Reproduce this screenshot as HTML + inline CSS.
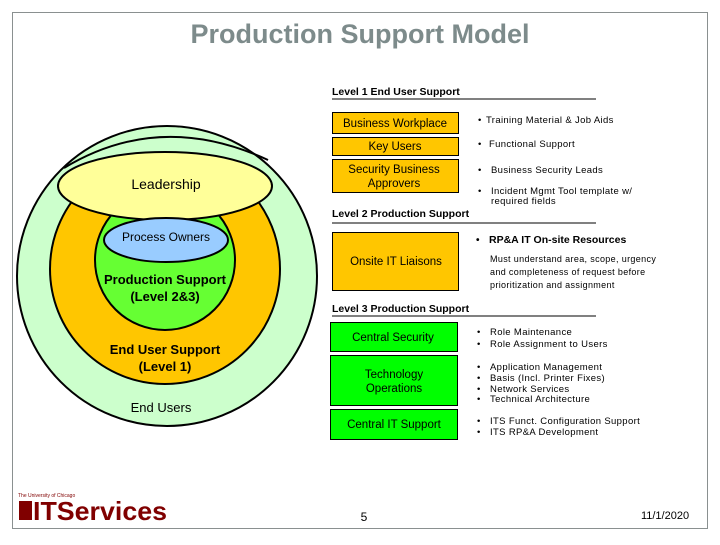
<!DOCTYPE html>
<html><head><meta charset="utf-8"><style>
body{margin:0;background:#fff;}
svg text{font-family:"Liberation Sans",Arial,sans-serif;}
.b{letter-spacing:0.35px;}
</style></head><body>
<svg width="720" height="540" viewBox="0 0 720 540" xmlns="http://www.w3.org/2000/svg">
<rect x="12.5" y="12.5" width="695" height="516" fill="#fff" stroke="#8a9090" stroke-width="1"/>
<text x="360" y="43" text-anchor="middle" font-size="27" font-weight="bold" fill="#7d8b8b">Production Support Model</text>

<circle cx="167" cy="276" r="150" fill="#ccffcc" stroke="#000" stroke-width="2"/>
<circle cx="165" cy="269" r="115" fill="#ffc600" stroke="#000" stroke-width="2"/>
<circle cx="165" cy="260" r="70" fill="#66ff33" stroke="#000" stroke-width="2"/>
<path d="M64,168 Q160,110 268,160" fill="none" stroke="#000" stroke-width="2"/>
<ellipse cx="165" cy="186" rx="107" ry="34" fill="#ffff99" stroke="#000" stroke-width="2"/>
<ellipse cx="166" cy="240" rx="62" ry="22" fill="#99ccff" stroke="#000" stroke-width="2"/>
<text x="166" y="189" text-anchor="middle" font-size="14" fill="#000">Leadership</text>
<text x="166" y="241" text-anchor="middle" font-size="12" fill="#000">Process Owners</text>
<text x="165" y="284" text-anchor="middle" font-size="13" font-weight="bold" fill="#000">Production Support</text>
<text x="165" y="301" text-anchor="middle" font-size="13" font-weight="bold" fill="#000">(Level 2&amp;3)</text>
<text x="165" y="354" text-anchor="middle" font-size="13" font-weight="bold" fill="#000">End User Support</text>
<text x="165" y="371" text-anchor="middle" font-size="13" font-weight="bold" fill="#000">(Level 1)</text>
<text x="161" y="412" text-anchor="middle" font-size="13" fill="#000">End Users</text>

<text x="332" y="95" font-size="10.5" font-weight="bold">Level 1 End User Support</text>
<line x1="332" y1="99" x2="596" y2="99" stroke="#000"/>
<rect x="332.5" y="112.5" width="126" height="21" fill="#ffc600" stroke="#000"/>
<text x="395" y="127" text-anchor="middle" font-size="11.5">Business Workplace</text>
<rect x="332.5" y="137.5" width="126" height="18" fill="#ffc600" stroke="#000"/>
<text x="395" y="150" text-anchor="middle" font-size="11.5">Key Users</text>
<rect x="332.5" y="159.5" width="126" height="33" fill="#ffc600" stroke="#000"/>
<text x="394" y="173" text-anchor="middle" font-size="11.5">Security Business</text>
<text x="394" y="187" text-anchor="middle" font-size="11.5">Approvers</text>
<g font-size="9.5" class="b">
<text x="478" y="123">•</text><text x="486" y="123">Training Material &amp; Job Aids</text>
<text x="478" y="147">•</text><text x="489" y="147">Functional Support</text>
<text x="478" y="173">•</text><text x="491" y="173">Business Security Leads</text>
<text x="478" y="194">•</text><text x="491" y="194">Incident Mgmt Tool template w/</text>
<text x="491" y="204">required fields</text>
</g>

<text x="332" y="217" font-size="10.5" font-weight="bold">Level 2 Production Support</text>
<line x1="332" y1="223" x2="596" y2="223" stroke="#000"/>
<rect x="332.5" y="232.5" width="126" height="58" fill="#ffc600" stroke="#000"/>
<text x="396" y="265" text-anchor="middle" font-size="11.5">Onsite IT Liaisons</text>
<text x="476" y="243" font-size="10" font-weight="bold">•</text>
<text x="489" y="243" font-size="10.5" font-weight="bold">RP&amp;A IT On-site Resources</text>
<g font-size="9" class="b">
<text x="490" y="262">Must understand area, scope, urgency</text>
<text x="490" y="275">and completeness of request before</text>
<text x="490" y="288">prioritization and assignment</text>
</g>

<text x="332" y="312" font-size="10.5" font-weight="bold">Level 3 Production Support</text>
<line x1="332" y1="316" x2="596" y2="316" stroke="#000"/>
<rect x="330.5" y="322.5" width="127" height="29" fill="#00ff00" stroke="#000"/>
<text x="393" y="341" text-anchor="middle" font-size="11.5">Central Security</text>
<rect x="330.5" y="355.5" width="127" height="50" fill="#00ff00" stroke="#000"/>
<text x="394" y="378" text-anchor="middle" font-size="11.5">Technology</text>
<text x="394" y="392" text-anchor="middle" font-size="11.5">Operations</text>
<rect x="330.5" y="409.5" width="127" height="30" fill="#00ff00" stroke="#000"/>
<text x="394" y="428" text-anchor="middle" font-size="11.5">Central IT Support</text>
<g font-size="9.5" class="b">
<text x="477" y="335">•</text><text x="490" y="335">Role Maintenance</text>
<text x="477" y="347">•</text><text x="490" y="347">Role Assignment to Users</text>
<text x="477" y="370">•</text><text x="490" y="370">Application Management</text>
<text x="477" y="381">•</text><text x="490" y="381">Basis (Incl. Printer Fixes)</text>
<text x="477" y="392">•</text><text x="490" y="392">Network Services</text>
<text x="477" y="402">•</text><text x="490" y="402">Technical Architecture</text>
<text x="477" y="424">•</text><text x="490" y="424">ITS Funct. Configuration Support</text>
<text x="477" y="435">•</text><text x="490" y="435">ITS RP&amp;A Development</text>
</g>

<text x="364" y="521" text-anchor="middle" font-size="12">5</text>
<text x="665" y="519" text-anchor="middle" font-size="11">11/1/2020</text>

<text x="18" y="497" font-size="5" fill="#800000">The University of Chicago</text>
<rect x="19" y="501" width="13" height="19" fill="#800000"/>
<text x="33" y="520" font-size="26" font-weight="bold" fill="#800000" textLength="134" lengthAdjust="spacingAndGlyphs">ITServices</text>
</svg>
</body></html>
